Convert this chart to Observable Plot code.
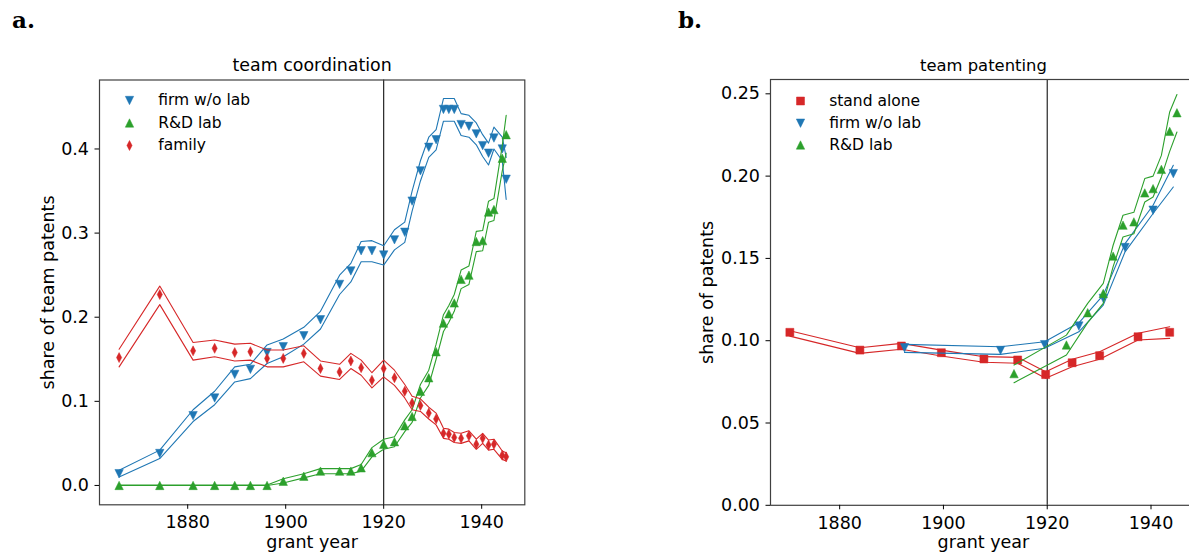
<!DOCTYPE html>
<html><head><meta charset="utf-8">
<script src="https://cdn.jsdelivr.net/npm/d3@7"></script>
<script src="https://cdn.jsdelivr.net/npm/@observablehq/plot@0.6"></script>
<style>
html,body{margin:0;padding:0;background:#fff;overflow:hidden;}
#wrap{position:relative;width:1189px;height:552px;overflow:hidden;background:#fff;}
#left,#right{position:absolute;top:0;width:600px;height:552px;}
#left{left:0;} #right{left:600px;}
#left svg,#right svg{max-width:none !important;}
</style></head><body>
<div id="wrap"><div id="left"></div><div id="right"></div></div>
<script>
// ---------- panel a: team coordination ----------
const yearsA = [1866, 1874.3, 1881.1, 1885.5, 1889.6, 1892.8, 1896.2, 1899.5, 1903.7, 1907.1, 1911.0, 1913.3, 1915.4, 1917.6, 1920, 1922.2, 1924.3, 1925.8, 1927.5, 1929.2, 1930.7, 1932.2, 1933.3, 1934.4, 1935.8, 1937.4, 1938.9, 1940.2, 1941.4, 1942.5, 1944.2, 1945.0];
const firmA    = [0.014, 0.038, 0.083, 0.104, 0.132, 0.138, 0.158, 0.165, 0.178, 0.197, 0.239, 0.255, 0.279, 0.279, 0.274, 0.292, 0.301, 0.338, 0.374, 0.402, 0.411, 0.447, 0.447, 0.447, 0.429, 0.427, 0.418, 0.404, 0.395, 0.413, 0.400, 0.364];
const firmA_lo = [0.010, 0.032, 0.076, 0.096, 0.123, 0.127, 0.145, 0.153, 0.168, 0.186, 0.227, 0.242, 0.266, 0.266, 0.262, 0.280, 0.289, 0.326, 0.362, 0.390, 0.399, 0.433, 0.433, 0.433, 0.416, 0.414, 0.405, 0.391, 0.381, 0.400, 0.386, 0.340];
const firmA_hi = [0.018, 0.042, 0.090, 0.112, 0.141, 0.144, 0.167, 0.174, 0.188, 0.207, 0.250, 0.264, 0.290, 0.291, 0.285, 0.304, 0.313, 0.350, 0.386, 0.414, 0.423, 0.460, 0.460, 0.460, 0.442, 0.440, 0.431, 0.417, 0.407, 0.426, 0.414, 0.390];
const labA     = [0, 0, 0, 0, 0, 0, 0, 0.005, 0.011, 0.017, 0.017, 0.017, 0.021, 0.039, 0.049, 0.052, 0.071, 0.082, 0.112, 0.128, 0.159, 0.193, 0.204, 0.217, 0.245, 0.250, 0.290, 0.291, 0.325, 0.328, 0.389, 0.417];
const labA_lo  = [0, 0, 0, 0, 0, 0, 0, 0.003, 0.009, 0.014, 0.014, 0.014, 0.017, 0.034, 0.043, 0.046, 0.064, 0.075, 0.104, 0.119, 0.150, 0.183, 0.194, 0.207, 0.234, 0.239, 0.278, 0.279, 0.313, 0.315, 0.374, 0.395];
const labA_hi  = [0.0006, 0.0006, 0.0006, 0.0006, 0.0006, 0.0006, 0.0006, 0.008, 0.014, 0.020, 0.020, 0.020, 0.025, 0.045, 0.055, 0.058, 0.078, 0.090, 0.120, 0.137, 0.168, 0.203, 0.214, 0.227, 0.256, 0.261, 0.302, 0.303, 0.338, 0.341, 0.404, 0.440];
const famA     = [0.152, 0.227, 0.160, 0.163, 0.158, 0.159, 0.151, 0.151, 0.157, 0.139, 0.135, 0.148, 0.140, 0.125, 0.139, 0.128, 0.112, 0.098, 0.095, 0.086, 0.079, 0.062, 0.061, 0.057, 0.056, 0.059, 0.049, 0.056, 0.048, 0.049, 0.036, 0.034];
const famA_lo  = [0.141, 0.215, 0.149, 0.153, 0.148, 0.149, 0.141, 0.141, 0.147, 0.130, 0.126, 0.139, 0.131, 0.116, 0.129, 0.119, 0.104, 0.090, 0.088, 0.079, 0.072, 0.056, 0.055, 0.051, 0.050, 0.053, 0.043, 0.050, 0.042, 0.043, 0.031, 0.029];
const famA_hi  = [0.162, 0.237, 0.170, 0.173, 0.168, 0.169, 0.161, 0.161, 0.166, 0.148, 0.144, 0.157, 0.149, 0.134, 0.149, 0.137, 0.120, 0.106, 0.103, 0.093, 0.086, 0.068, 0.067, 0.063, 0.062, 0.065, 0.055, 0.062, 0.054, 0.055, 0.041, 0.039];

// ---------- panel b: team patenting ----------
const yearsStand = [1870.4, 1883.9, 1891.9, 1899.6, 1907.8, 1914.3, 1919.7, 1924.8, 1930.1, 1937.5, 1943.6];
const standB     = [0.1051, 0.0943, 0.0968, 0.0927, 0.0889, 0.0883, 0.0794, 0.0866, 0.0909, 0.1024, 0.1051];
const standB_lo  = [0.1028, 0.0923, 0.0948, 0.0907, 0.0869, 0.0863, 0.0772, 0.0842, 0.0887, 0.1004, 0.1014];
const standB_hi  = [0.1060, 0.0957, 0.0984, 0.0943, 0.0903, 0.0899, 0.0812, 0.0887, 0.0933, 0.1045, 0.1085];
const yearsFirmB = [1892.5, 1911.0, 1919.5, 1926.1, 1930.8, 1935.0, 1940.4, 1944.3];
const firmB      = [0.0957, 0.0941, 0.0976, 0.1089, 0.1257, 0.1566, 0.1793, 0.2015];
const firmB_lo   = [0.0929, 0.0917, 0.0954, 0.1054, 0.1216, 0.1540, 0.1773, 0.1934];
const firmB_hi   = [0.0978, 0.0963, 0.0994, 0.1109, 0.1277, 0.1590, 0.1823, 0.2066];
const yearsLabB  = [1913.6, 1923.7, 1927.8, 1930.8, 1932.7, 1934.6, 1936.7, 1938.8, 1940.4, 1942.0, 1943.6, 1945.0];
const labB       = [0.0800, 0.0974, 0.1170, 0.1287, 0.1514, 0.1702, 0.1722, 0.1898, 0.1924, 0.2041, 0.2272, 0.2385];
const labB_lo    = [0.0745, 0.0913, 0.1110, 0.1227, 0.1450, 0.1630, 0.1650, 0.1843, 0.1873, 0.1995, 0.2150, 0.2268];
const labB_hi    = [0.0852, 0.1034, 0.1227, 0.1348, 0.1580, 0.1762, 0.1780, 0.1985, 0.2000, 0.2126, 0.2390, 0.2496];

const xTicks  = [1880, 1900, 1920, 1940];
const yTicksA = [0, 0.1, 0.2, 0.3, 0.4];
const yTicksB = [0, 0.05, 0.10, 0.15, 0.20, 0.25];
const legendA = ["firm w/o lab", "R&D lab", "family"];
const legendB = ["stand alone", "firm w/o lab", "R&D lab"];

const BLUE = "#1f77b4", GREEN = "#2ca02c", RED = "#d62728";

// marker shapes (matplotlib-like)
const triDown = {draw(c, s){ const r = Math.sqrt(s/Math.PI); c.moveTo(0, r); c.lineTo(-r, -r); c.lineTo(r, -r); c.closePath(); }};
const triUp   = {draw(c, s){ const r = Math.sqrt(s/Math.PI); c.moveTo(0, -r); c.lineTo(r, r); c.lineTo(-r, r); c.closePath(); }};
const thinDia = {draw(c, s){ const r = Math.sqrt(s/Math.PI); const w = r*0.52; c.moveTo(0, -r); c.lineTo(w, 0); c.lineTo(0, r); c.lineTo(-w, 0); c.closePath(); }};
const square  = {draw(c, s){ const r = Math.sqrt(s/Math.PI); c.rect(-r, -r, 2*r, 2*r); }};

function rows(xs, v, lo, hi){ return xs.map((x, i) => ({x, v: v[i], lo: lo[i], hi: hi[i]})); }
function series(data, color, sym, r){
  return [
    Plot.line(data, {x: "x", y: "hi", stroke: color, strokeWidth: 1.1}),
    Plot.line(data, {x: "x", y: "lo", stroke: color, strokeWidth: 1.1}),
    Plot.dot(data, {x: "x", y: "v", symbol: sym, r, fill: color, stroke: color, strokeWidth: 0.5})
  ];
}
function legend(labels, colors, syms, rs, dys){
  return labels.flatMap((lab, i) => [
    Plot.dot([lab], {frameAnchor: "top-left", dx: 30, dy: dys[i], symbol: syms[i], r: rs[i], fill: colors[i], stroke: colors[i], strokeWidth: 0.5}),
    Plot.text([lab], {text: d => d, frameAnchor: "top-left", dx: 58.7, dy: dys[i], textAnchor: "start", lineAnchor: "middle", fontSize: 15.5})
  ]);
}
function label(txt, opts){ return Plot.text([txt], {text: d => d, textAnchor: "middle", lineAnchor: "middle", ...opts}); }
const baseStyle = {fontFamily: "DejaVu Sans", fontSize: "17.5px", background: "white", overflow: "visible", color: "black"};

const plotA = Plot.plot({
  width: 600, height: 552,
  marginLeft: 99, marginRight: 75.7, marginTop: 79.5, marginBottom: 47.7,
  x: {domain: [1862.0, 1948.8]},
  y: {domain: [-0.023, 0.482]},
  style: baseStyle,
  marks: [
    Plot.ruleX([1920], {stroke: "#111", strokeWidth: 1.1}),
    ...series(rows(yearsA, firmA, firmA_lo, firmA_hi), BLUE, triDown, 4.2),
    ...series(rows(yearsA, labA, labA_lo, labA_hi), GREEN, triUp, 4.2),
    ...series(rows(yearsA, famA, famA_lo, famA_hi), RED, thinDia, 5),
    ...legend(legendA, [BLUE, GREEN, RED], [triDown, triUp, thinDia], [4.2, 4.2, 5], [20.5, 43, 65.5]),
    Plot.frame({stroke: "#404040", strokeWidth: 1.2}),
    Plot.axisX(xTicks, {tickFormat: "d", tickSize: 4.5, tickPadding: 6.5, label: null}),
    Plot.axisY(yTicksA, {tickFormat: d3.format(".1f"), tickSize: 4.5, tickPadding: 6, label: null}),
    label("team coordination", {frameAnchor: "top", dy: -14.3, fontSize: 17.4}),
    label("grant year", {frameAnchor: "bottom", dy: 37.4, fontSize: 17.5}),
    label("share of team patents", {frameAnchor: "left", dx: -51.6, rotate: -90, fontSize: 17.5}),
    label("a.", {frameAnchor: "top-left", dx: -76, dy: -59.5, fontFamily: "DejaVu Serif", fontWeight: "bold", fontSize: 23})
  ]
});
document.getElementById("left").append(plotA);

const plotB = Plot.plot({
  width: 600, height: 552,
  marginLeft: 170, marginRight: 4.2, marginTop: 79, marginBottom: 47.2,
  x: {domain: [1866.67, 1948.73]},
  y: {domain: [0, 0.2587]},
  style: baseStyle,
  marks: [
    Plot.ruleX([1920], {stroke: "#111", strokeWidth: 1.1}),
    ...series(rows(yearsStand, standB, standB_lo, standB_hi), RED, square, 4),
    ...series(rows(yearsFirmB, firmB, firmB_lo, firmB_hi), BLUE, triDown, 4.2),
    ...series(rows(yearsLabB, labB, labB_lo, labB_hi), GREEN, triUp, 4.2),
    ...legend(legendB, [RED, BLUE, GREEN], [square, triDown, triUp], [4, 4.2, 4.2], [21.5, 43.7, 65.5]),
    Plot.frame({stroke: "#404040", strokeWidth: 1.2}),
    Plot.axisX(xTicks, {tickFormat: "d", tickSize: 4.5, tickPadding: 6.5, label: null}),
    Plot.axisY(yTicksB, {tickFormat: d3.format(".2f"), tickSize: 4.5, tickPadding: 6, label: null}),
    label("team patenting", {frameAnchor: "top", dy: -14, fontSize: 16.4}),
    label("grant year", {frameAnchor: "bottom", dy: 37.4, fontSize: 17.5}),
    label("share of patents", {frameAnchor: "left", dx: -63.6, rotate: -90, fontSize: 17.5}),
    label("b.", {frameAnchor: "top-left", dx: -80.5, dy: -59, fontFamily: "DejaVu Serif", fontWeight: "bold", fontSize: 23})
  ]
});
document.getElementById("right").append(plotB);
</script>
</body></html>
